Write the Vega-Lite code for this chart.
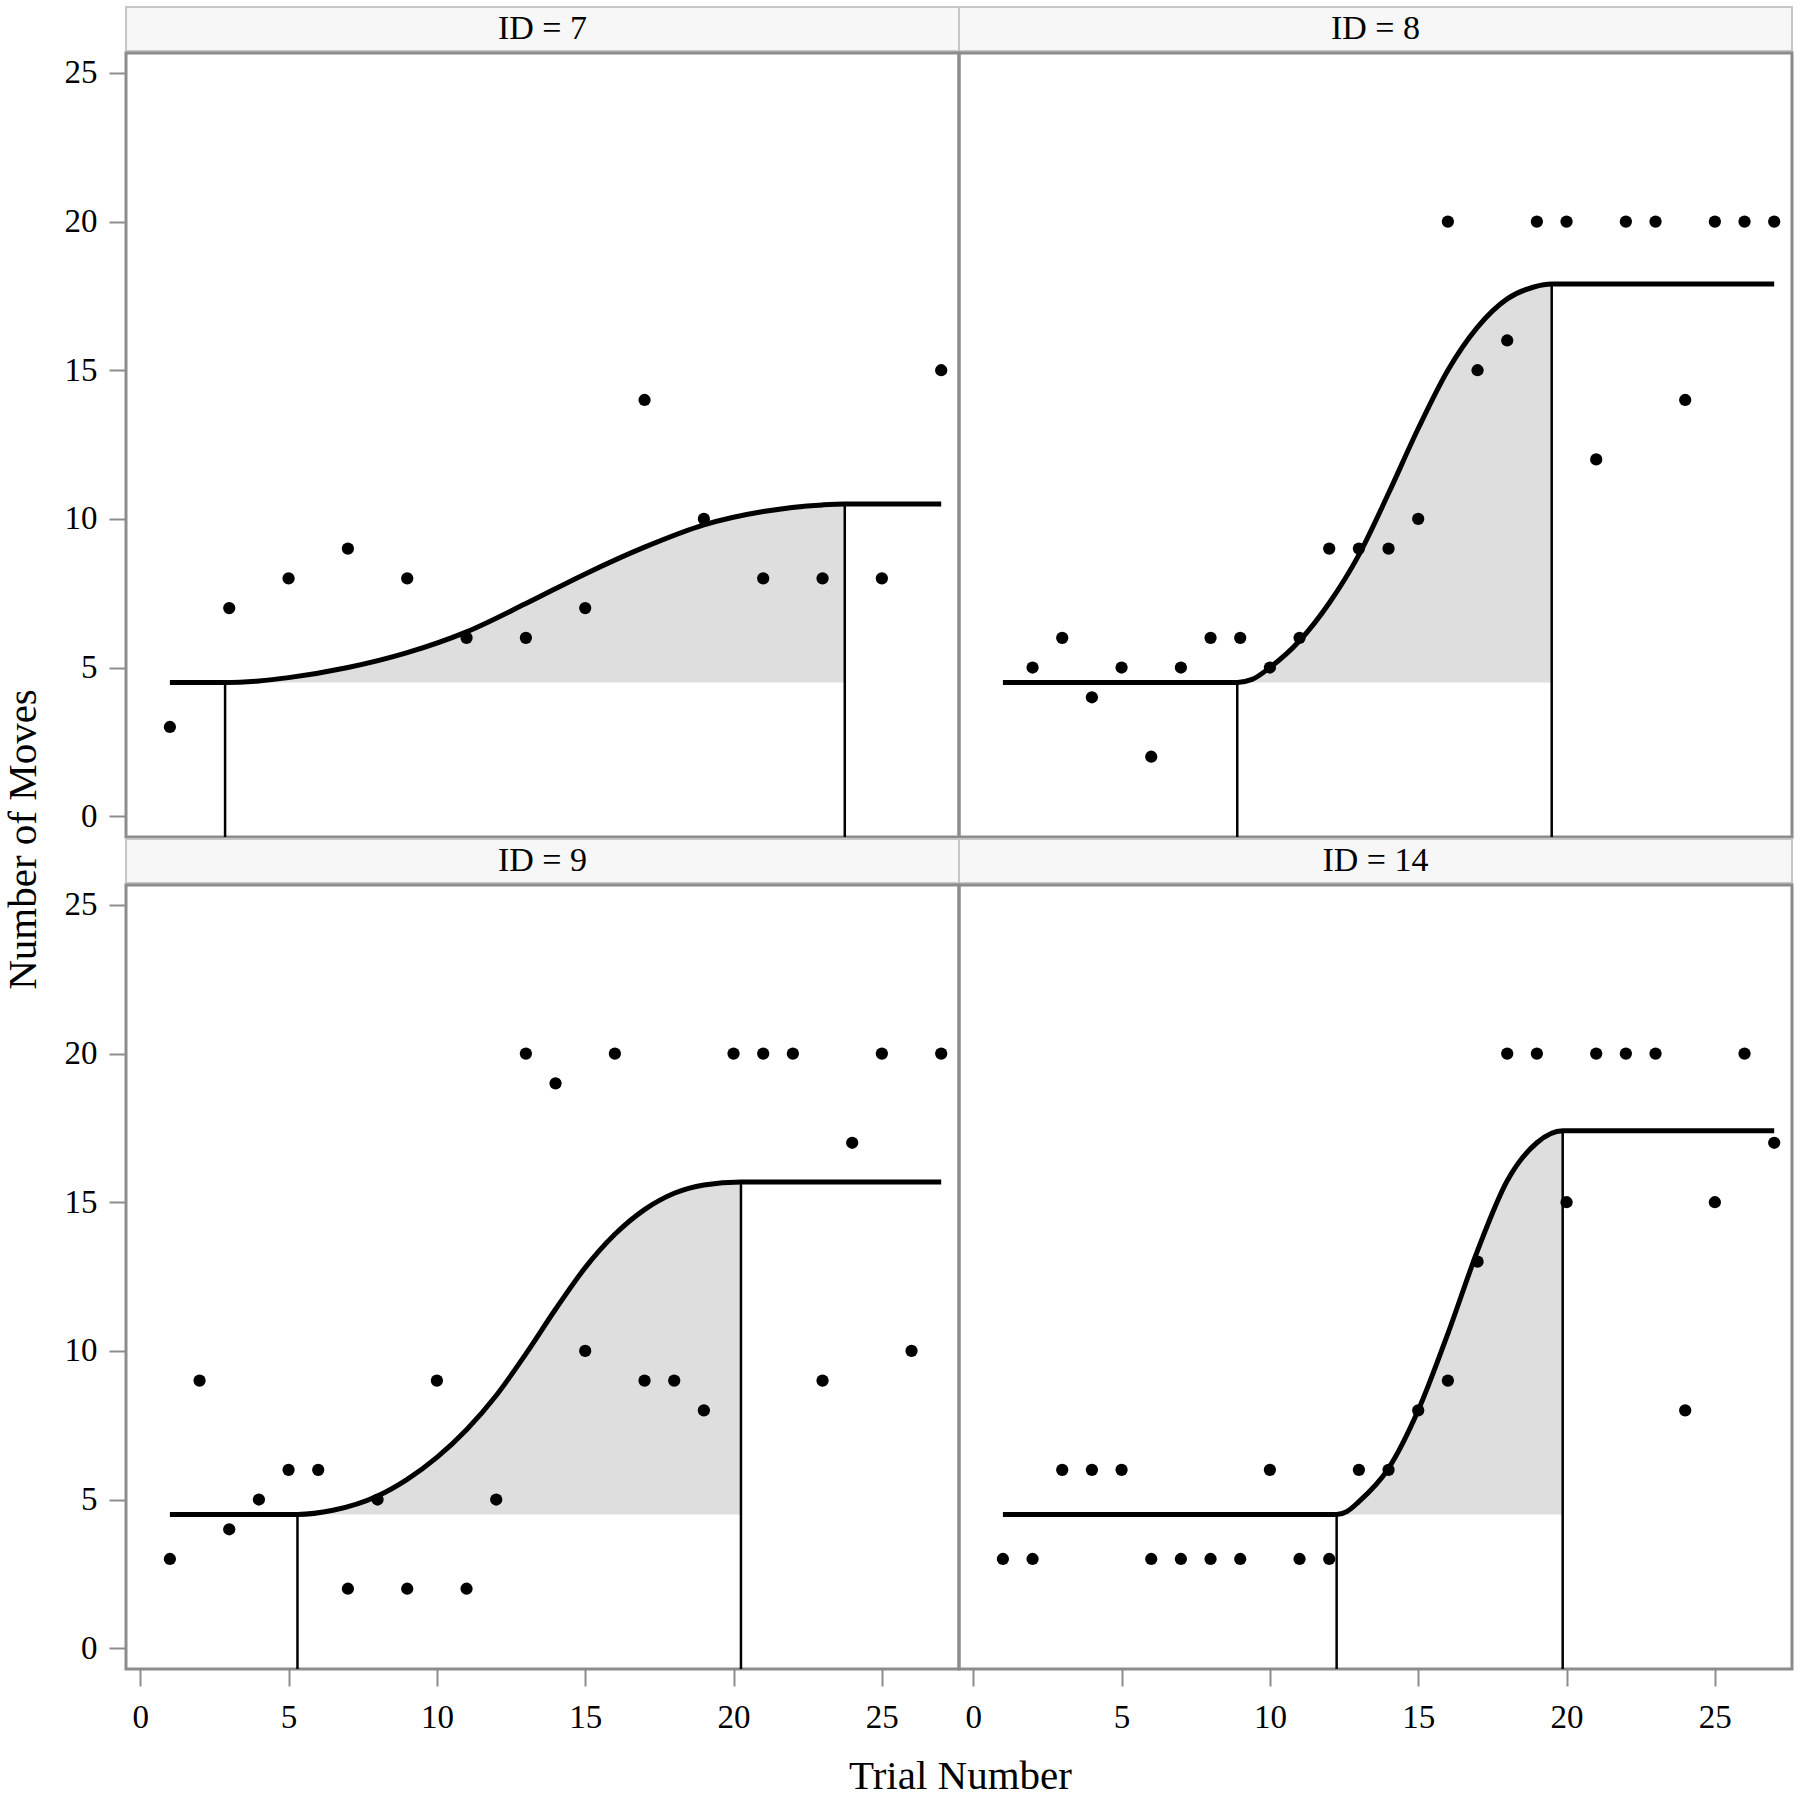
{
  "$schema": "https://vega.github.io/schema/vega-lite/v6.json",
  "background": "white",
  "padding": {"left": 0, "top": 6, "right": 5, "bottom": 0},
  "config": {
    "view": {"stroke": "#8c8c8c", "strokeWidth": 3},
    "axis": {"domain": false, "grid": false, "tickColor": "#8c8c8c", "tickWidth": 2, "tickSize": 17,
      "labelFont": "Liberation Serif", "labelFontSize": 33, "labelColor": "#000000", "labelPadding": 12,
      "titleFont": "Liberation Serif", "titleFontSize": 41, "titleFontWeight": "normal", "titleColor": "#000000"}
  },
  "datasets": {
    "panels": [
      {"ID": 7, "label": "ID = 7"}, {"ID": 8, "label": "ID = 8"}, {"ID": 9, "label": "ID = 9"}, {"ID": 14, "label": "ID = 14"}
    ],
    "d": [
      {"ID":7,"kind":"obs","trial":1,"value":3},{"ID":7,"kind":"obs","trial":3,"value":7},{"ID":7,"kind":"obs","trial":5,"value":8},{"ID":7,"kind":"obs","trial":7,"value":9},{"ID":7,"kind":"obs","trial":9,"value":8},{"ID":7,"kind":"obs","trial":11,"value":6},{"ID":7,"kind":"obs","trial":13,"value":6},{"ID":7,"kind":"obs","trial":15,"value":7},{"ID":7,"kind":"obs","trial":17,"value":14},{"ID":7,"kind":"obs","trial":19,"value":10},{"ID":7,"kind":"obs","trial":21,"value":8},{"ID":7,"kind":"obs","trial":23,"value":8},{"ID":7,"kind":"obs","trial":25,"value":8},{"ID":7,"kind":"obs","trial":27,"value":15},

      {"ID":8,"kind":"obs","trial":2,"value":5},{"ID":8,"kind":"obs","trial":3,"value":6},{"ID":8,"kind":"obs","trial":4,"value":4},{"ID":8,"kind":"obs","trial":5,"value":5},{"ID":8,"kind":"obs","trial":6,"value":2},{"ID":8,"kind":"obs","trial":7,"value":5},{"ID":8,"kind":"obs","trial":8,"value":6},{"ID":8,"kind":"obs","trial":9,"value":6},{"ID":8,"kind":"obs","trial":10,"value":5},{"ID":8,"kind":"obs","trial":11,"value":6},{"ID":8,"kind":"obs","trial":12,"value":9},{"ID":8,"kind":"obs","trial":13,"value":9},{"ID":8,"kind":"obs","trial":14,"value":9},{"ID":8,"kind":"obs","trial":15,"value":10},{"ID":8,"kind":"obs","trial":16,"value":20},{"ID":8,"kind":"obs","trial":17,"value":15},{"ID":8,"kind":"obs","trial":18,"value":16},{"ID":8,"kind":"obs","trial":19,"value":20},{"ID":8,"kind":"obs","trial":20,"value":20},{"ID":8,"kind":"obs","trial":21,"value":12},{"ID":8,"kind":"obs","trial":22,"value":20},{"ID":8,"kind":"obs","trial":23,"value":20},{"ID":8,"kind":"obs","trial":24,"value":14},{"ID":8,"kind":"obs","trial":25,"value":20},{"ID":8,"kind":"obs","trial":26,"value":20},{"ID":8,"kind":"obs","trial":27,"value":20},

      {"ID":9,"kind":"obs","trial":1,"value":3},{"ID":9,"kind":"obs","trial":2,"value":9},{"ID":9,"kind":"obs","trial":3,"value":4},{"ID":9,"kind":"obs","trial":4,"value":5},{"ID":9,"kind":"obs","trial":5,"value":6},{"ID":9,"kind":"obs","trial":6,"value":6},{"ID":9,"kind":"obs","trial":7,"value":2},{"ID":9,"kind":"obs","trial":8,"value":5},{"ID":9,"kind":"obs","trial":9,"value":2},{"ID":9,"kind":"obs","trial":10,"value":9},{"ID":9,"kind":"obs","trial":11,"value":2},{"ID":9,"kind":"obs","trial":12,"value":5},{"ID":9,"kind":"obs","trial":13,"value":20},{"ID":9,"kind":"obs","trial":14,"value":19},{"ID":9,"kind":"obs","trial":15,"value":10},{"ID":9,"kind":"obs","trial":16,"value":20},{"ID":9,"kind":"obs","trial":17,"value":9},{"ID":9,"kind":"obs","trial":18,"value":9},{"ID":9,"kind":"obs","trial":19,"value":8},{"ID":9,"kind":"obs","trial":20,"value":20},{"ID":9,"kind":"obs","trial":21,"value":20},{"ID":9,"kind":"obs","trial":22,"value":20},{"ID":9,"kind":"obs","trial":23,"value":9},{"ID":9,"kind":"obs","trial":24,"value":17},{"ID":9,"kind":"obs","trial":25,"value":20},{"ID":9,"kind":"obs","trial":26,"value":10},{"ID":9,"kind":"obs","trial":27,"value":20},

      {"ID":14,"kind":"obs","trial":1,"value":3},{"ID":14,"kind":"obs","trial":2,"value":3},{"ID":14,"kind":"obs","trial":3,"value":6},{"ID":14,"kind":"obs","trial":4,"value":6},{"ID":14,"kind":"obs","trial":5,"value":6},{"ID":14,"kind":"obs","trial":6,"value":3},{"ID":14,"kind":"obs","trial":7,"value":3},{"ID":14,"kind":"obs","trial":8,"value":3},{"ID":14,"kind":"obs","trial":9,"value":3},{"ID":14,"kind":"obs","trial":10,"value":6},{"ID":14,"kind":"obs","trial":11,"value":3},{"ID":14,"kind":"obs","trial":12,"value":3},{"ID":14,"kind":"obs","trial":13,"value":6},{"ID":14,"kind":"obs","trial":14,"value":6},{"ID":14,"kind":"obs","trial":15,"value":8},{"ID":14,"kind":"obs","trial":16,"value":9},{"ID":14,"kind":"obs","trial":17,"value":13},{"ID":14,"kind":"obs","trial":18,"value":20},{"ID":14,"kind":"obs","trial":19,"value":20},{"ID":14,"kind":"obs","trial":20,"value":15},{"ID":14,"kind":"obs","trial":21,"value":20},{"ID":14,"kind":"obs","trial":22,"value":20},{"ID":14,"kind":"obs","trial":23,"value":20},{"ID":14,"kind":"obs","trial":24,"value":8},{"ID":14,"kind":"obs","trial":25,"value":15},{"ID":14,"kind":"obs","trial":26,"value":20},{"ID":14,"kind":"obs","trial":27,"value":17},

      {"ID":7,"kind":"fit","phase":"pre","trial":1,"value":4.5},
      {"ID":7,"kind":"fit","phase":"learn","trial":2.86,"value":4.5},{"ID":7,"kind":"fit","phase":"learn","trial":4,"value":4.55},{"ID":7,"kind":"fit","phase":"learn","trial":5,"value":4.66},{"ID":7,"kind":"fit","phase":"learn","trial":7,"value":5.0},{"ID":7,"kind":"fit","phase":"learn","trial":9,"value":5.5},{"ID":7,"kind":"fit","phase":"learn","trial":11,"value":6.2},{"ID":7,"kind":"fit","phase":"learn","trial":13,"value":7.15},{"ID":7,"kind":"fit","phase":"learn","trial":15,"value":8.15},{"ID":7,"kind":"fit","phase":"learn","trial":17,"value":9.05},{"ID":7,"kind":"fit","phase":"learn","trial":19,"value":9.8},{"ID":7,"kind":"fit","phase":"learn","trial":21,"value":10.25},{"ID":7,"kind":"fit","phase":"learn","trial":23,"value":10.47},{"ID":7,"kind":"fit","phase":"learn","trial":23.75,"value":10.5},
      {"ID":7,"kind":"fit","phase":"post","trial":27,"value":10.5},

      {"ID":8,"kind":"fit","phase":"pre","trial":1,"value":4.5},
      {"ID":8,"kind":"fit","phase":"learn","trial":8.9,"value":4.5},{"ID":8,"kind":"fit","phase":"learn","trial":9.4,"value":4.6},{"ID":8,"kind":"fit","phase":"learn","trial":10,"value":5.0},{"ID":8,"kind":"fit","phase":"learn","trial":11,"value":5.9},{"ID":8,"kind":"fit","phase":"learn","trial":12,"value":7.17},{"ID":8,"kind":"fit","phase":"learn","trial":13,"value":8.79},{"ID":8,"kind":"fit","phase":"learn","trial":14,"value":10.86},{"ID":8,"kind":"fit","phase":"learn","trial":15,"value":13.04},{"ID":8,"kind":"fit","phase":"learn","trial":16,"value":15.0},{"ID":8,"kind":"fit","phase":"learn","trial":17,"value":16.45},{"ID":8,"kind":"fit","phase":"learn","trial":18,"value":17.4},{"ID":8,"kind":"fit","phase":"learn","trial":18.9,"value":17.8},{"ID":8,"kind":"fit","phase":"learn","trial":19.5,"value":17.9},
      {"ID":8,"kind":"fit","phase":"post","trial":27,"value":17.9},

      {"ID":9,"kind":"fit","phase":"pre","trial":1,"value":4.5},
      {"ID":9,"kind":"fit","phase":"learn","trial":5.3,"value":4.5},{"ID":9,"kind":"fit","phase":"learn","trial":6.5,"value":4.64},{"ID":9,"kind":"fit","phase":"learn","trial":8,"value":5.12},{"ID":9,"kind":"fit","phase":"learn","trial":9,"value":5.68},{"ID":9,"kind":"fit","phase":"learn","trial":10,"value":6.42},{"ID":9,"kind":"fit","phase":"learn","trial":11,"value":7.35},{"ID":9,"kind":"fit","phase":"learn","trial":12,"value":8.5},{"ID":9,"kind":"fit","phase":"learn","trial":13,"value":9.9},{"ID":9,"kind":"fit","phase":"learn","trial":14,"value":11.4},{"ID":9,"kind":"fit","phase":"learn","trial":15,"value":12.8},{"ID":9,"kind":"fit","phase":"learn","trial":16,"value":13.92},{"ID":9,"kind":"fit","phase":"learn","trial":17,"value":14.75},{"ID":9,"kind":"fit","phase":"learn","trial":18,"value":15.3},{"ID":9,"kind":"fit","phase":"learn","trial":19,"value":15.58},{"ID":9,"kind":"fit","phase":"learn","trial":20.25,"value":15.68},
      {"ID":9,"kind":"fit","phase":"post","trial":27,"value":15.68},

      {"ID":14,"kind":"fit","phase":"pre","trial":1,"value":4.5},
      {"ID":14,"kind":"fit","phase":"learn","trial":12.25,"value":4.5},{"ID":14,"kind":"fit","phase":"learn","trial":12.6,"value":4.6},{"ID":14,"kind":"fit","phase":"learn","trial":13,"value":4.93},{"ID":14,"kind":"fit","phase":"learn","trial":14,"value":6.05},{"ID":14,"kind":"fit","phase":"learn","trial":15,"value":8.0},{"ID":14,"kind":"fit","phase":"learn","trial":16,"value":10.58},{"ID":14,"kind":"fit","phase":"learn","trial":17,"value":13.37},{"ID":14,"kind":"fit","phase":"learn","trial":18,"value":15.72},{"ID":14,"kind":"fit","phase":"learn","trial":19,"value":17.0},{"ID":14,"kind":"fit","phase":"learn","trial":19.87,"value":17.4},
      {"ID":14,"kind":"fit","phase":"post","trial":27,"value":17.4},

      {"ID":7,"kind":"cut","trial":2.86,"value":4.5},{"ID":7,"kind":"cut","trial":23.75,"value":10.5},
      {"ID":8,"kind":"cut","trial":8.9,"value":4.5},{"ID":8,"kind":"cut","trial":19.5,"value":17.9},
      {"ID":9,"kind":"cut","trial":5.3,"value":4.5},{"ID":9,"kind":"cut","trial":20.25,"value":15.68},
      {"ID":14,"kind":"cut","trial":12.25,"value":4.5},{"ID":14,"kind":"cut","trial":19.87,"value":17.4}
    ]
  },
  "columns": 2,
  "spacing": {"row": 2, "column": 0},
  "bounds": "flush",
  "concat": [
    {
      "width": 833, "height": 44,
      "view": {"fill": "#f7f7f7", "stroke": "#c6c6c6", "strokeWidth": 2},
      "data": {"name": "panels"},
      "transform": [{"filter": "datum.ID === 7"}],
      "mark": {"type": "text", "font": "Liberation Serif", "fontSize": 34, "color": "#000000", "baseline": "middle"},
      "encoding": {"text": {"field": "label"}}
    },
    {
      "width": 833, "height": 44,
      "view": {"fill": "#f7f7f7", "stroke": "#c6c6c6", "strokeWidth": 2},
      "data": {"name": "panels"},
      "transform": [{"filter": "datum.ID === 8"}],
      "mark": {"type": "text", "font": "Liberation Serif", "fontSize": 34, "color": "#000000", "baseline": "middle"},
      "encoding": {"text": {"field": "label"}}
    },
    {
      "width": 833, "height": 784,
      "data": {"name": "d"},
      "transform": [{"filter": "datum.ID === 7"}],
      "encoding": {
        "x": {"field": "trial", "type": "quantitative", "scale": {"domain": [-0.48, 27.6], "nice": false, "zero": false}, "axis": null},
        "y": {"field": "value", "type": "quantitative", "scale": {"domain": [-0.7, 25.67], "nice": false, "zero": false},
          "axis": {"values": [0, 5, 10, 15, 20, 25], "title": "Number of Moves", "titleY": 786, "titlePadding": 20}}
      },
      "layer": [
        {"transform": [{"filter": "datum.kind === 'fit' && datum.phase === 'learn'"}], "mark": {"type": "area", "interpolate": "monotone", "color": "#dedede", "opacity": 1}, "encoding": {"y2": {"datum": 4.5}}},
        {"transform": [{"filter": "datum.kind === 'cut'"}], "mark": {"type": "rule", "color": "#000000", "strokeWidth": 2.5}, "encoding": {"y2": {"datum": -0.7}}},
        {"transform": [{"filter": "datum.kind === 'fit'"}], "mark": {"type": "line", "interpolate": "monotone", "color": "#000000", "strokeWidth": 5}, "encoding": {}},
        {"transform": [{"filter": "datum.kind === 'obs'"}], "mark": {"type": "point", "filled": true, "color": "#000000", "size": 150, "opacity": 1}, "encoding": {}}
      ]
    },
    {
      "width": 833, "height": 784,
      "data": {"name": "d"},
      "transform": [{"filter": "datum.ID === 8"}],
      "encoding": {
        "x": {"field": "trial", "type": "quantitative", "scale": {"domain": [-0.48, 27.6], "nice": false, "zero": false}, "axis": null},
        "y": {"field": "value", "type": "quantitative", "scale": {"domain": [-0.7, 25.67], "nice": false, "zero": false}, "axis": null}
      },
      "layer": [
        {"transform": [{"filter": "datum.kind === 'fit' && datum.phase === 'learn'"}], "mark": {"type": "area", "interpolate": "monotone", "color": "#dedede", "opacity": 1}, "encoding": {"y2": {"datum": 4.5}}},
        {"transform": [{"filter": "datum.kind === 'cut'"}], "mark": {"type": "rule", "color": "#000000", "strokeWidth": 2.5}, "encoding": {"y2": {"datum": -0.7}}},
        {"transform": [{"filter": "datum.kind === 'fit'"}], "mark": {"type": "line", "interpolate": "monotone", "color": "#000000", "strokeWidth": 5}, "encoding": {}},
        {"transform": [{"filter": "datum.kind === 'obs'"}], "mark": {"type": "point", "filled": true, "color": "#000000", "size": 150, "opacity": 1}, "encoding": {}}
      ]
    },
    {
      "width": 833, "height": 44,
      "view": {"fill": "#f7f7f7", "stroke": "#c6c6c6", "strokeWidth": 2},
      "data": {"name": "panels"},
      "transform": [{"filter": "datum.ID === 9"}],
      "mark": {"type": "text", "font": "Liberation Serif", "fontSize": 34, "color": "#000000", "baseline": "middle"},
      "encoding": {"text": {"field": "label"}}
    },
    {
      "width": 833, "height": 44,
      "view": {"fill": "#f7f7f7", "stroke": "#c6c6c6", "strokeWidth": 2},
      "data": {"name": "panels"},
      "transform": [{"filter": "datum.ID === 14"}],
      "mark": {"type": "text", "font": "Liberation Serif", "fontSize": 34, "color": "#000000", "baseline": "middle"},
      "encoding": {"text": {"field": "label"}}
    },
    {
      "width": 833, "height": 784,
      "data": {"name": "d"},
      "transform": [{"filter": "datum.ID === 9"}],
      "encoding": {
        "x": {"field": "trial", "type": "quantitative", "scale": {"domain": [-0.48, 27.6], "nice": false, "zero": false},
          "axis": {"values": [0, 5, 10, 15, 20, 25], "title": "Trial Number", "titleX": 834, "labelPadding": 15, "titlePadding": 22}},
        "y": {"field": "value", "type": "quantitative", "scale": {"domain": [-0.7, 25.67], "nice": false, "zero": false},
          "axis": {"values": [0, 5, 10, 15, 20, 25], "title": null}}
      },
      "layer": [
        {"transform": [{"filter": "datum.kind === 'fit' && datum.phase === 'learn'"}], "mark": {"type": "area", "interpolate": "monotone", "color": "#dedede", "opacity": 1}, "encoding": {"y2": {"datum": 4.5}}},
        {"transform": [{"filter": "datum.kind === 'cut'"}], "mark": {"type": "rule", "color": "#000000", "strokeWidth": 2.5}, "encoding": {"y2": {"datum": -0.7}}},
        {"transform": [{"filter": "datum.kind === 'fit'"}], "mark": {"type": "line", "interpolate": "monotone", "color": "#000000", "strokeWidth": 5}, "encoding": {}},
        {"transform": [{"filter": "datum.kind === 'obs'"}], "mark": {"type": "point", "filled": true, "color": "#000000", "size": 150, "opacity": 1}, "encoding": {}}
      ]
    },
    {
      "width": 833, "height": 784,
      "data": {"name": "d"},
      "transform": [{"filter": "datum.ID === 14"}],
      "encoding": {
        "x": {"field": "trial", "type": "quantitative", "scale": {"domain": [-0.48, 27.6], "nice": false, "zero": false},
          "axis": {"values": [0, 5, 10, 15, 20, 25], "title": null, "labelPadding": 15}},
        "y": {"field": "value", "type": "quantitative", "scale": {"domain": [-0.7, 25.67], "nice": false, "zero": false}, "axis": null}
      },
      "layer": [
        {"transform": [{"filter": "datum.kind === 'fit' && datum.phase === 'learn'"}], "mark": {"type": "area", "interpolate": "monotone", "color": "#dedede", "opacity": 1}, "encoding": {"y2": {"datum": 4.5}}},
        {"transform": [{"filter": "datum.kind === 'cut'"}], "mark": {"type": "rule", "color": "#000000", "strokeWidth": 2.5}, "encoding": {"y2": {"datum": -0.7}}},
        {"transform": [{"filter": "datum.kind === 'fit'"}], "mark": {"type": "line", "interpolate": "monotone", "color": "#000000", "strokeWidth": 5}, "encoding": {}},
        {"transform": [{"filter": "datum.kind === 'obs'"}], "mark": {"type": "point", "filled": true, "color": "#000000", "size": 150, "opacity": 1}, "encoding": {}}
      ]
    }
  ]
}
